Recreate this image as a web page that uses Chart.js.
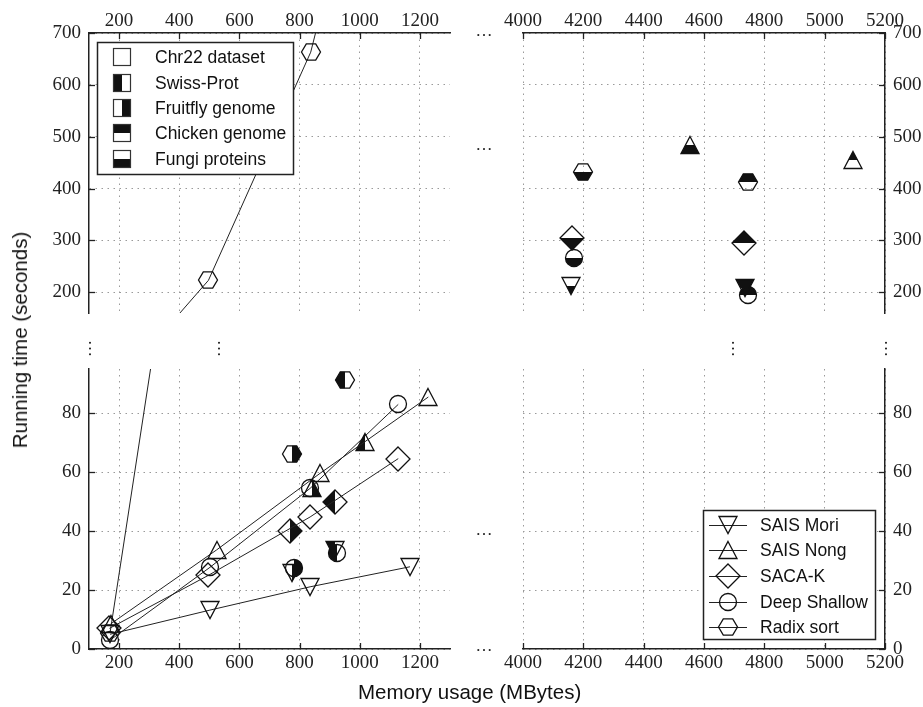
<!DOCTYPE html>
<html>
<head>
<meta charset="utf-8">
<script src="https://cdn.jsdelivr.net/npm/chart.js@4.4.1/dist/chart.umd.min.js"></script>
<style>
  body { margin: 0; background: #fff; }
  #wrap { position: relative; width: 923px; height: 707px; overflow: hidden; }
  #wrap canvas { position: absolute; left: 0; top: 0; }
  .dots { position: absolute; font: 17px "Liberation Serif", serif; color: #222; line-height: 17px; width: 20px; height: 17px; text-align: center; }
  .title { position: absolute; font: 20.5px "Liberation Sans", Arial, sans-serif; color: #111; white-space: nowrap; }
</style>
</head>
<body>
<div id="wrap">
  <canvas id="topLeft" width="923" height="707"></canvas>
  <canvas id="topRight" width="923" height="707"></canvas>
  <canvas id="botLeft" width="923" height="707"></canvas>
  <canvas id="botRight" width="923" height="707"></canvas>
  <div class="title" style="left:358px; top:680px;">Memory usage (MBytes)</div>
  <div class="title" style="left:20px; top:340px; transform: translate(-50%, -50%) rotate(-90deg);">Running time (seconds)</div>
  <div class="dots" style="left:474px; top:22px;">…</div>
  <div class="dots" style="left:474px; top:136px;">…</div>
  <div class="dots" style="left:474px; top:521px;">…</div>
  <div class="dots" style="left:474px; top:637px;">…</div>
  <div class="dots" style="left:84px; top:340px; transform: rotate(90deg);">…</div>
  <div class="dots" style="left:213px; top:340px; transform: rotate(90deg);">…</div>
  <div class="dots" style="left:727px; top:340px; transform: rotate(90deg);">…</div>
  <div class="dots" style="left:880px; top:340px; transform: rotate(90deg);">…</div>
</div>
<script>
const algorithms = ['SAIS Mori', 'SAIS Nong', 'SACA-K', 'Deep Shallow', 'Radix sort'];
const inputs = ['Chr22 dataset', 'Swiss-Prot', 'Fruitfly genome', 'Chicken genome', 'Fungi proteins'];

// axis ticks
const memTicksLeft = [200, 400, 600, 800, 1000, 1200];
const memTicksRight = [4000, 4200, 4400, 4600, 4800, 5000, 5200];
const timeTicksTop = [200, 300, 400, 500, 600, 700];
const timeTicksBottom = [0, 20, 40, 60, 80];

// Chr22 dataset at growing sizes (connected by lines), one pair per algorithm
const moriMem = [170, 502, 835, 1167];
const moriTime = [5, 13.2, 21.1, 27.9];
const nongMem = [172, 524, 868, 1228];
const nongTime = [8.5, 33.6, 59.6, 85.5];
const sacakMem = [168, 497, 835, 1128];
const sacakTime = [7, 25, 44.8, 64.6];
const dsMem = [170, 502, 835, 1128];
const dsTime = [3, 27.7, 54.5, 83];
const radixMem = [170, 497, 837, 1165];
const radixTime = [5.5, 223, 663, 1420];

// other inputs, values in algorithm order
const swissMem = [918, 1018, 918, 924, 951];
const swissTime = [33.6, 70.3, 49.8, 32.5, 91.4];
const fruitMem = [775, 840, 768, 781, 774];
const fruitTime = [25.8, 54.6, 40, 27.5, 66.3];
const chickenMem = [4736, 5094, 4733, 4746, 4746];
const chickenTime = [208, 455, 295, 194, 412];
const fungiMem = [4159, 4553, 4162, 4169, 4199];
const fungiTime = [213, 484, 304, 266, 432];

const shapes = ['triDown', 'triUp', 'diamond', 'circle', 'hexagon'];
const fills = ['none', 'left', 'right', 'top', 'bottom'];

// marker images (shape = algorithm, half fill = input)
function makeMarker(shape, fill) {
  const c = document.createElement('canvas');
  c.width = 30; c.height = 30;
  const g = c.getContext('2d');
  const path = () => {
    g.beginPath();
    if (shape === 'triDown') { g.moveTo(6, 6.5); g.lineTo(24, 6.5); g.lineTo(15, 23.5); g.closePath(); }
    else if (shape === 'triUp') { g.moveTo(15, 6.5); g.lineTo(24, 23.5); g.lineTo(6, 23.5); g.closePath(); }
    else if (shape === 'diamond') { g.moveTo(15, 3); g.lineTo(27, 15); g.lineTo(15, 27); g.lineTo(3, 15); g.closePath(); }
    else if (shape === 'circle') { g.arc(15, 15, 8.5, 0, Math.PI * 2); }
    else { g.moveTo(5.5, 15); g.lineTo(10.3, 6.8); g.lineTo(19.7, 6.8); g.lineTo(24.5, 15); g.lineTo(19.7, 23.2); g.lineTo(10.3, 23.2); g.closePath(); }
  };
  if (fill !== 'none') {
    const r = { left: [0, 0, 15, 30], right: [15, 0, 15, 30], top: [0, 0, 30, 15], bottom: [0, 15, 30, 15] }[fill];
    g.save();
    g.beginPath(); g.rect(r[0], r[1], r[2], r[3]); g.clip();
    path(); g.fillStyle = '#111'; g.fill();
    g.restore();
  }
  path();
  g.strokeStyle = '#111'; g.lineWidth = 1.3; g.stroke();
  return c;
}
const markers = shapes.map(s => fills.map(f => makeMarker(s, f)));

function pts(xs, ys) { return xs.map((x, i) => ({ x: x, y: ys[i] })); }

function buildDatasets() {
  const chrMem = [moriMem, nongMem, sacakMem, dsMem, radixMem];
  const chrTime = [moriTime, nongTime, sacakTime, dsTime, radixTime];
  const others = [[swissMem, swissTime], [fruitMem, fruitTime], [chickenMem, chickenTime], [fungiMem, fungiTime]];
  const ds = [];
  algorithms.forEach((alg, a) => {
    ds.push({
      label: alg + ' / ' + inputs[0],
      data: pts(chrMem[a], chrTime[a]),
      showLine: true, borderColor: '#222', borderWidth: 1,
      pointStyle: markers[a][0]
    });
    others.forEach((o, k) => {
      ds.push({
        label: alg + ' / ' + inputs[k + 1],
        data: [{ x: o[0][a], y: o[1][a] }],
        showLine: false,
        pointStyle: markers[a][k + 1]
      });
    });
  });
  return ds;
}

const tickFont = { family: '"Liberation Serif", "Times New Roman", serif', size: 19 };
const sansFont = '17.5px "Liberation Sans", Arial, sans-serif';

function xScale(pos, min, max, vals) {
  return {
    type: 'linear', position: pos, min: min, max: max,
    afterBuildTicks: s => { s.ticks = vals.map(v => ({ value: v })); },
    afterFit: s => { s.height = pos === 'top' ? 33 : 58; },
    grid: { color: '#9a9a9a', lineWidth: 1, drawTicks: false },
    border: { display: true, color: '#222', width: 1.5, dash: [1.5, 4.5] },
    ticks: { font: tickFont, color: '#222', padding: pos === 'top' ? 1 : 3, maxRotation: 0, autoSkip: false, callback: v => String(v) }
  };
}
function yScale(pos, min, max, vals) {
  return {
    type: 'linear', position: pos, min: min, max: max,
    afterBuildTicks: s => { s.ticks = vals.map(v => ({ value: v })); },
    afterFit: s => { s.width = pos === 'left' ? 89 : 38; },
    grid: { color: '#9a9a9a', lineWidth: 1, drawTicks: false },
    border: { display: true, color: '#222', width: 1.5, dash: [1.5, 4.5] },
    ticks: { font: tickFont, color: '#222', padding: 8, autoSkip: false, callback: v => String(v) }
  };
}

// keep marker images crisp
const crisp = {
  id: 'crisp',
  beforeDatasetsDraw(chart) { chart.ctx.imageSmoothingEnabled = false; }
};

// short tick marks pointing into the plot
const innerTicks = {
  id: 'innerTicks',
  afterDatasetsDraw(chart) {
    const ctx = chart.ctx, a = chart.chartArea;
    ctx.save();
    ctx.strokeStyle = '#222'; ctx.lineWidth = 1.3;
    Object.values(chart.scales).forEach(s => {
      s.ticks.forEach(t => {
        const p = Math.round(s.getPixelForValue(t.value)) + 0.5;
        ctx.beginPath();
        if (s.isHorizontal()) {
          const y0 = s.position === 'top' ? a.top : a.bottom;
          ctx.moveTo(p, y0); ctx.lineTo(p, y0 + (s.position === 'top' ? 6 : -6));
        } else {
          const x0 = s.position === 'left' ? a.left : a.right;
          ctx.moveTo(x0, p); ctx.lineTo(x0 + (s.position === 'left' ? 6 : -6), p);
        }
        ctx.stroke();
      });
    });
    ctx.restore();
  }
};

// legend of inputs (top left) and of algorithms (bottom right)
const inputLegend = {
  id: 'inputLegend',
  afterDraw(chart) {
    const ctx = chart.ctx;
    ctx.save();
    ctx.fillStyle = '#fff'; ctx.fillRect(97, 42, 197, 133);
    ctx.strokeStyle = '#222'; ctx.lineWidth = 1.5; ctx.strokeRect(97.5, 42.5, 196, 132);
    const rows = [57, 83, 108, 133, 159];
    inputs.forEach((name, i) => {
      const y = rows[i];
      const r = { none: null, left: [113, y - 9, 9, 18], right: [122, y - 9, 9, 18], top: [113, y - 9, 18, 9], bottom: [113, y, 18, 9] }[fills[i]];
      if (r) { ctx.fillStyle = '#111'; ctx.fillRect(r[0], r[1], r[2], r[3]); }
      ctx.strokeStyle = '#333'; ctx.lineWidth = 1.2; ctx.strokeRect(113.5, y - 8.5, 17, 17);
      ctx.fillStyle = '#111'; ctx.font = sansFont; ctx.textBaseline = 'middle';
      ctx.fillText(name, 155, y + 1);
    });
    ctx.restore();
  }
};
const algLegend = {
  id: 'algLegend',
  afterDraw(chart) {
    const ctx = chart.ctx;
    ctx.save();
    ctx.fillStyle = '#fff'; ctx.fillRect(703, 510, 173, 130);
    ctx.strokeStyle = '#222'; ctx.lineWidth = 1.5; ctx.strokeRect(703.5, 510.5, 172, 129);
    const rows = [525, 550, 576, 602, 627];
    algorithms.forEach((name, i) => {
      const y = rows[i];
      ctx.strokeStyle = '#222'; ctx.lineWidth = 1;
      ctx.beginPath(); ctx.moveTo(709, y + 0.5); ctx.lineTo(747, y + 0.5); ctx.stroke();
      ctx.drawImage(markers[i][0], 728 - 15, y - 15);
      ctx.fillStyle = '#111'; ctx.font = sansFont; ctx.textBaseline = 'middle';
      ctx.fillText(name, 760, y + 1);
    });
    ctx.restore();
  }
};

function panel(id, xs, ys, pad, extra) {
  return new Chart(document.getElementById(id), {
    type: 'scatter',
    data: { datasets: buildDatasets() },
    options: {
      responsive: false, animation: false, events: [],
      layout: { padding: pad },
      scales: { x: xs, y: ys },
      plugins: { legend: { display: false }, tooltip: { enabled: false } }
    },
    plugins: [crisp, innerTicks].concat(extra)
  });
}

panel('topLeft', xScale('top', 100, 1300, memTicksLeft), yScale('left', 160, 700, timeTicksTop),
  { left: 0, top: 0, right: 473, bottom: 394 }, [inputLegend]);
panel('topRight', xScale('top', 4000, 5200, memTicksRight), yScale('right', 160, 700, timeTicksTop),
  { left: 523, top: 0, right: 0, bottom: 394 }, []);
panel('botLeft', xScale('bottom', 100, 1300, memTicksLeft), yScale('left', 0, 95, timeTicksBottom),
  { left: 0, top: 369, right: 473, bottom: 0 }, []);
panel('botRight', xScale('bottom', 4000, 5200, memTicksRight), yScale('right', 0, 95, timeTicksBottom),
  { left: 523, top: 369, right: 0, bottom: 0 }, [algLegend]);
</script>
</body>
</html>
